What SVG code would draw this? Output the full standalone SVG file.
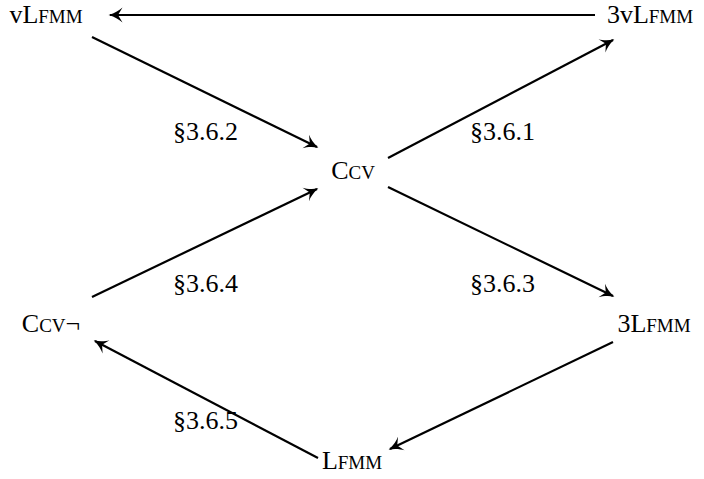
<svg xmlns="http://www.w3.org/2000/svg" width="704" height="479" viewBox="0 0 704 479">
  <style>
    text { font-family: "Liberation Serif", "DejaVu Serif", serif; font-size: 26px; fill: #000; }
    .node text { text-anchor: middle; }
    .lbl { font-size: 26px; }
    .sc { font-size: 19px; }
    .edge { stroke: #000; stroke-width: 2.2; fill: none; marker-end: url(#arrow); }
  </style>
  <defs>
    <marker id="arrow" markerUnits="userSpaceOnUse" viewBox="-14 -8 16 16" refX="0" refY="0" markerWidth="16" markerHeight="16" orient="auto">
      <path d="M1.5,0 C-5,-1.8 -9.5,-4.8 -12.5,-7.5 L-8,0 L-12.5,7.5 C-9.5,4.8 -5,1.8 1.5,0 Z" fill="#000"/>
    </marker>
  </defs>
  <rect width="704" height="479" fill="#fff"/>

  <g id="connectors">
    <line class="edge" x1="595" y1="15" x2="110" y2="15"/>
    <line class="edge" x1="92" y1="37" x2="317" y2="147"/>
    <line class="edge" x1="388" y1="158" x2="613" y2="40"/>
    <line class="edge" x1="92" y1="297" x2="317" y2="189"/>
    <line class="edge" x1="388" y1="187" x2="613" y2="296"/>
    <line class="edge" x1="613" y1="342" x2="390" y2="449"/>
    <line class="edge" x1="318" y1="458" x2="95" y2="341"/>
  </g>

  <g id="labels">
    <text class="lbl" x="173" y="140">§3.6.2</text>
    <text class="lbl" x="470" y="140">§3.6.1</text>
    <text class="lbl" x="173" y="292">§3.6.4</text>
    <text class="lbl" x="470" y="292">§3.6.3</text>
    <text class="lbl" x="173" y="429">§3.6.5</text>
  </g>

  <g id="vLfmm" class="node"><text x="46" y="23">vL<tspan class="sc">FMM</tspan></text></g>
  <g id="3vLfmm" class="node"><text x="650" y="23">3vL<tspan class="sc">FMM</tspan></text></g>
  <g id="Ccv" class="node"><text x="353" y="179">C<tspan class="sc">CV</tspan></text></g>
  <g id="Ccv-neg" class="node"><text x="51" y="332">C<tspan class="sc">CV</tspan>¬</text></g>
  <g id="3Lfmm" class="node"><text x="654" y="332">3L<tspan class="sc">FMM</tspan></text></g>
  <g id="Lfmm" class="node"><text x="352" y="469">L<tspan class="sc">FMM</tspan></text></g>
</svg>
